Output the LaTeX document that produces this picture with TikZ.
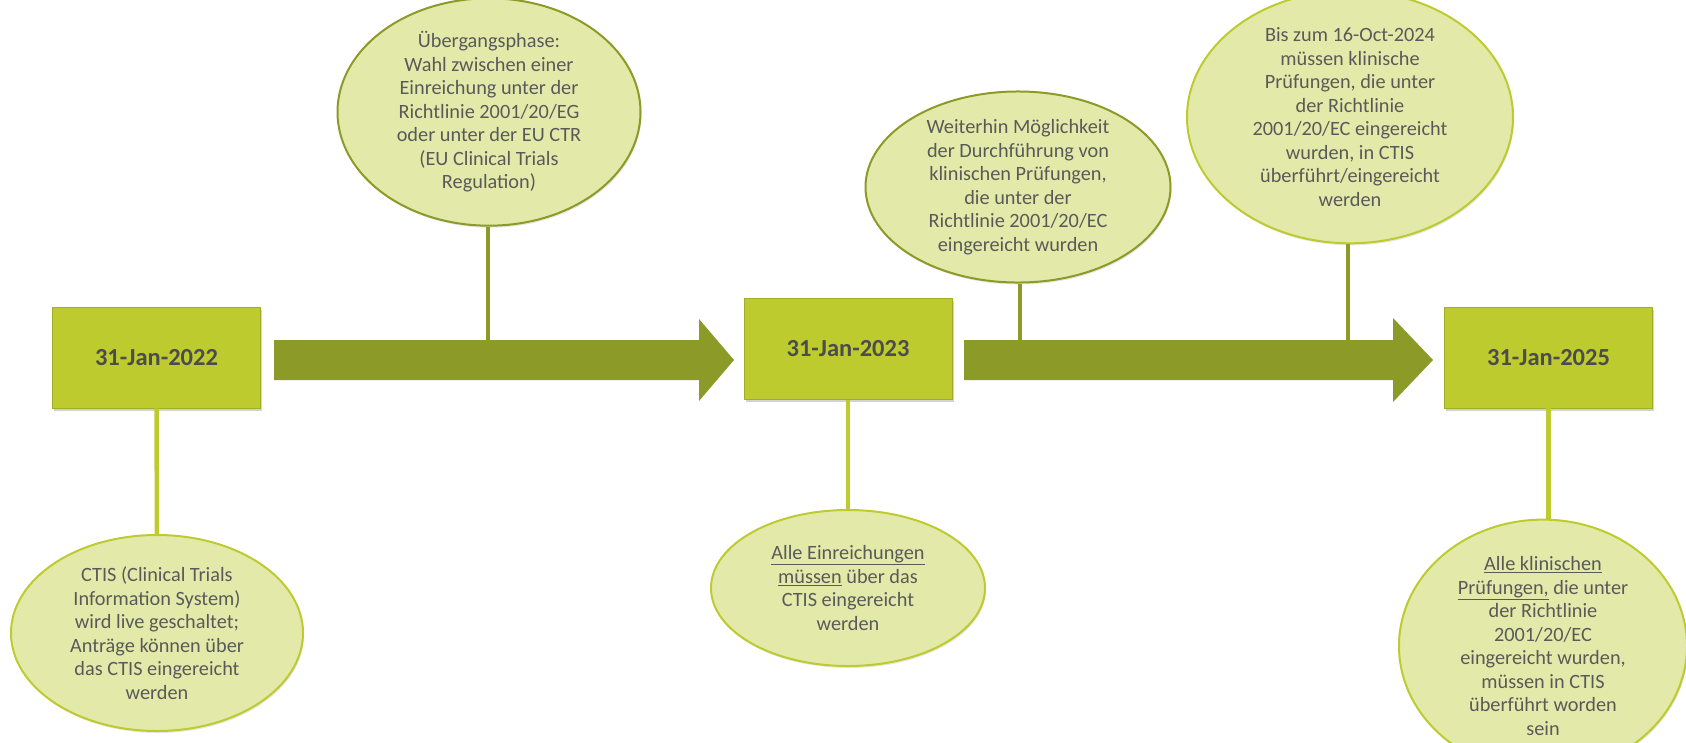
\documentclass[tikz,border=0pt]{standalone}
\usepackage{fontspec}
\setmainfont{Carlito}
\usetikzlibrary{shapes.geometric,shadows}
\definecolor{lime}{HTML}{BDCB2F}
\definecolor{olive}{HTML}{8C9A27}
\definecolor{pale}{HTML}{E3EAA9}
\definecolor{txt}{HTML}{5A5A5A}
\begin{document}
\begin{tikzpicture}[x=1pt, y=-1pt,
  datebox/.style={rectangle, fill=lime, draw=lime!85!black, line width=0.6pt,
    minimum width=208pt, minimum height=101pt, inner sep=0pt,
    font=\fontsize{24.5}{28}\selectfont\bfseries, text=txt!85!black,
    drop shadow={shadow xshift=1.5pt, shadow yshift=-2.5pt, opacity=0.35}},
  note/.style={ellipse, fill=pale, draw=lime, line width=2pt, inner sep=0pt,
    align=center, font=\fontsize{20.3}{23.5}\selectfont, text=txt,
    drop shadow={shadow xshift=1pt, shadow yshift=-2pt, opacity=0.2}},
  stem/.style={draw=lime, line width=4.5pt},
  stemup/.style={draw=olive, line width=4.5pt}]
  \useasboundingbox (0,0) rectangle (1686,742);

  % arrows
  \fill[olive] (274,340) -- (699,340) -- (699,319) -- (734,360) -- (699,401)
    -- (699,380) -- (274,380) -- cycle;
  \fill[olive] (964,340) -- (1393,340) -- (1393,318) -- (1433,360) -- (1393,402)
    -- (1393,380) -- (964,380) -- cycle;
  \coordinate (a1) at (488,341);
  \coordinate (a2) at (1020,341);
  \coordinate (a3) at (1348,341);

  % dates
  \node[datebox] (d1) at (156.5,357.5) {31-Jan-2022};
  \node[datebox] (d2) at (848,349) {31-Jan-2023};
  \node[datebox] (d3) at (1548.5,357.5) {31-Jan-2025};

  % notes below
  \node[note, minimum width=292pt, minimum height=196pt] (e1) at (157,633)
    {CTIS (Clinical Trials\\Information System)\\wird live geschaltet;\\Anträge können über\\das CTIS eingereicht\\werden};
  \node[note, minimum width=274pt, minimum height=156pt] (e3) at (848,588)
    {\underline{Alle Einreichungen}\\\underline{müssen} über das\\CTIS eingereicht\\werden};
  \node[note, minimum width=288pt, minimum height=206pt] (e6) at (1543,646)
    {\underline{Alle klinischen}\\\underline{Prüfungen,} die unter\\der Richtlinie\\2001/20/EC\\eingereicht wurden,\\müssen in CTIS\\überführt worden\\sein};

  % notes above
  \node[note, draw=olive, minimum width=303pt, minimum height=190pt] (e2) at (489,112)
    {Übergangsphase:\\Wahl zwischen einer\\Einreichung unter der\\Richtlinie 2001/20/EG\\oder unter der EU CTR\\(EU Clinical Trials\\Regulation)};
  \node[note, draw=olive, minimum width=305pt, minimum height=178pt] (e4) at (1018,187)
    {Weiterhin Möglichkeit\\der Durchführung von\\klinischen Prüfungen,\\die unter der\\Richtlinie 2001/20/EC\\eingereicht wurden};
  \node[note, minimum width=326pt, minimum height=222pt] (e5) at (1350,117)
    {Bis zum 16-Oct-2024\\müssen klinische\\Prüfungen, die unter\\der Richtlinie\\2001/20/EC eingereicht\\wurden, in CTIS\\überführt/eingereicht\\werden};

  % stems
  \draw[stem] (d1.south) -- (e1.north);
  \draw[stem] (d2.south) -- (e3.north);
  \draw[stem] (d3.south) -- (d3.south |- e6.north);
  \draw[stemup] (e2.south -| a1) -- (a1);
  \draw[stemup] (e4.south -| a2) -- (a2);
  \draw[stemup] (e5.south -| a3) -- (a3);
\end{tikzpicture}
\end{document}
